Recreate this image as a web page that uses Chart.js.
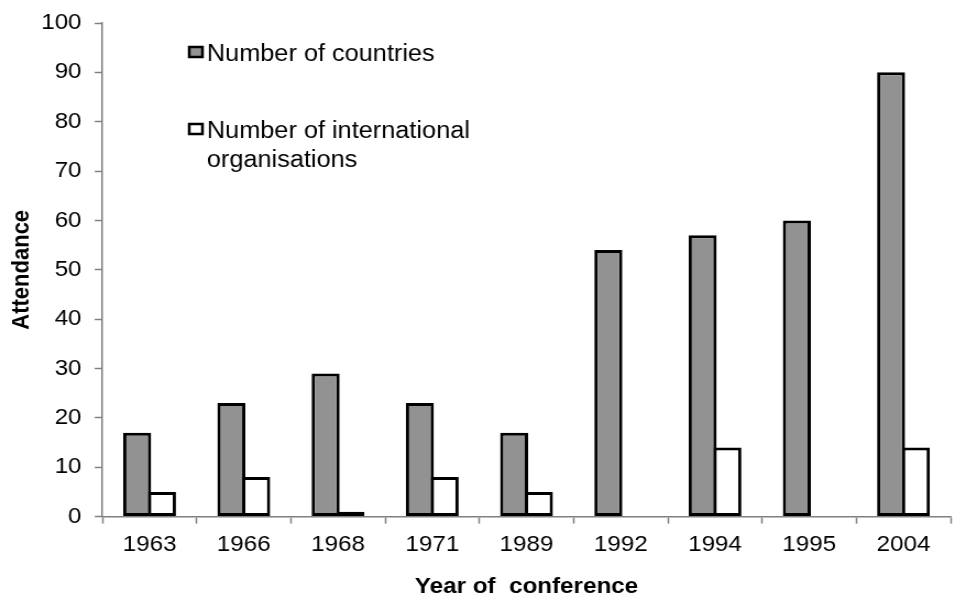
<!DOCTYPE html>
<html>
<head>
<meta charset="utf-8">
<script src="https://cdn.jsdelivr.net/npm/chart.js@4.4.1/dist/chart.umd.min.js"></script>
<style>
  html, body { margin: 0; padding: 0; background: #fff; overflow: hidden; }
  /* the original figure is a little wider than tall-set type, so stretch it out */
  #wrap { width: 868px; height: 595px; transform: scale(1.1002, 1); transform-origin: 0 0; }
</style>
</head>
<body>
<div id="wrap"><canvas id="myChart" width="868" height="595"></canvas></div>
<script>
var years = ["1963", "1966", "1968", "1971", "1989", "1992", "1994", "1995", "2004"];
var countries = [17, 23, 29, 23, 17, 54, 57, 60, 90];
var organisations = [5, 8, 1, 8, 5, null, 14, null, 14];
var yTicks = [0, 10, 20, 30, 40, 50, 60, 70, 80, 90, 100];

var FONT = "'Liberation Sans', Arial, sans-serif";

// legend sits inside the plot area, top left
var insideLegend = {
    id: 'insideLegend',
    afterDraw: function (chart) {
        var ctx = chart.ctx;
        var items = [
            { ds: chart.data.datasets[0], lines: ["Number of countries"], base: 61 },
            { ds: chart.data.datasets[1], lines: ["Number of international", "organisations"], base: 138 }
        ];
        ctx.save();
        ctx.font = "23px " + FONT;
        ctx.textBaseline = "alphabetic";
        items.forEach(function (it) {
            var top = it.base - 14;
            ctx.fillStyle = it.ds.backgroundColor;
            ctx.fillRect(172, top, 12, 10);
            ctx.lineWidth = 2.5;
            ctx.strokeStyle = "#000";
            ctx.strokeRect(172, top, 12, 10);
            ctx.fillStyle = "#000";
            it.lines.forEach(function (t, i) {
                ctx.fillText(t, 188, it.base + i * 29);
            });
        });
        ctx.restore();
    }
};

// Chart.js reserves tick padding twice when fitting an axis; give one back
function trimPadding(scale) {
    var p = scale.options.ticks.padding;
    if (scale.isHorizontal()) {
        scale.height -= p;
    } else {
        scale.width -= p;
    }
}

var ctx = document.getElementById("myChart").getContext('2d');

var barChartData = {
    labels: years,
    datasets: [{
        label: "Number of countries",
        backgroundColor: "#929292",
        borderColor: "#000",
        borderWidth: 3,
        borderSkipped: false,
        data: countries
    }, {
        label: "Number of international organisations",
        backgroundColor: "#ffffff",
        borderColor: "#000",
        borderWidth: 3,
        borderSkipped: false,
        data: organisations
    }]
};

var barChartDemo = new Chart(ctx, {
    type: 'bar',
    data: barChartData,
    plugins: [insideLegend],
    options: {
        responsive: false,
        animation: false,
        layout: { padding: { left: 7, right: 4, top: 1, bottom: -3 } },
        datasets: {
            // bars are a bit wider than their slot so each pair shares one border
            bar: { barPercentage: 1.13, categoryPercentage: 0.526, grouped: true, inflateAmount: 0 }
        },
        plugins: {
            legend: { display: false },
            tooltip: { enabled: false }
        },
        scales: {
            x: {
                afterFit: trimPadding,
                grid: { display: true, drawOnChartArea: false, offset: true, tickLength: 7, tickColor: "#808080", tickWidth: 1.5 },
                border: { display: true, color: "#808080", width: 1.5 },
                ticks: { color: "#000", font: { family: FONT, size: 22 }, padding: 8 },
                title: { display: true, text: "Year of  conference", color: "#000", font: { family: FONT, size: 22, weight: 'bold', lineHeight: 1 }, padding: { top: 18, bottom: 0 } }
            },
            y: {
                min: 0,
                max: 100,
                afterBuildTicks: function (axis) {
                    axis.ticks = yTicks.map(function (v) { return { value: v }; });
                },
                afterFit: trimPadding,
                grid: { display: true, drawOnChartArea: false, tickLength: 7, tickColor: "#808080", tickWidth: 1.5 },
                border: { display: true, color: "#808080", width: 1.5 },
                ticks: { color: "#000", font: { family: FONT, size: 22, lineHeight: 1 }, padding: 12 },
                title: { display: true, text: "Attendance", color: "#000", font: { family: FONT, size: 22, weight: 'bold' }, padding: { top: 0, bottom: 4 } }
            }
        }
    }
});
</script>
</body>
</html>
